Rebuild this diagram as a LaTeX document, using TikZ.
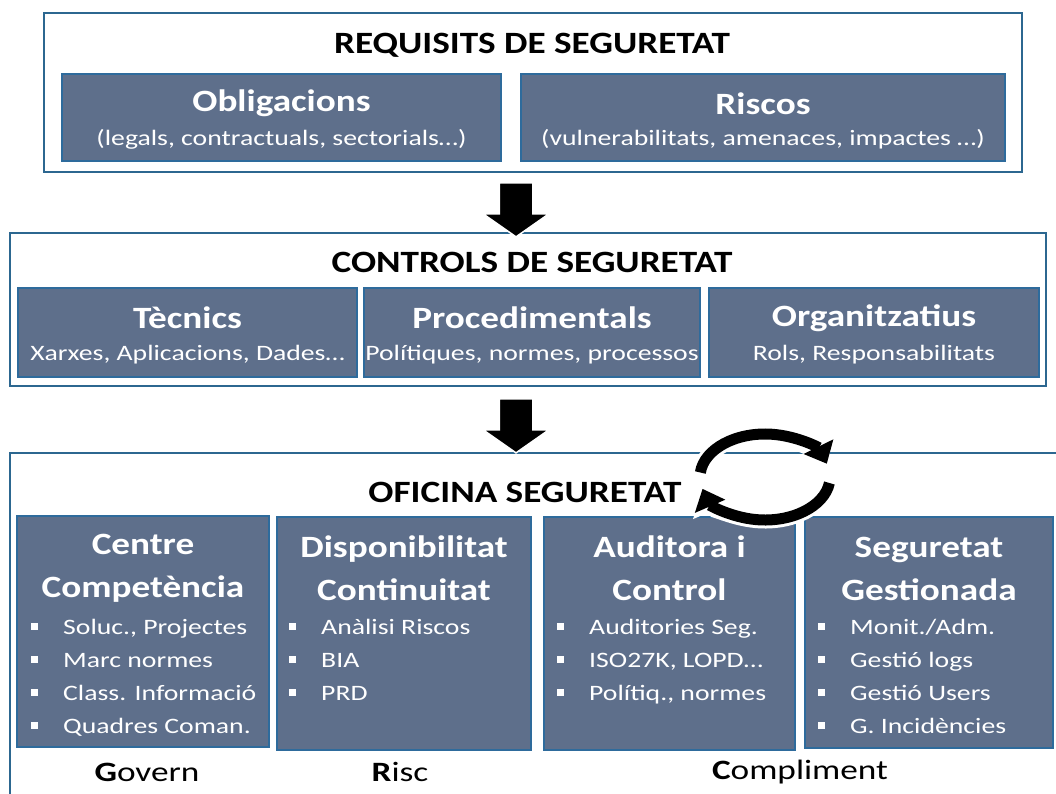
\documentclass[tikz,border=0pt]{standalone}
\usepackage{fontspec}
\setmainfont{Carlito}[FakeStretch=1.26]
\newfontfamily\headfont{Carlito}[FakeStretch=1.2]
\usetikzlibrary{positioning, shapes.arrows, arrows.meta}

\definecolor{cellfill}{HTML}{5E6F8B}
\definecolor{cellline}{HTML}{2E6B9C}
\definecolor{panelline}{HTML}{2C6790}
\newcommand{\bsq}{\makebox[32pt][l]{\rule[4pt]{7pt}{7pt}}}

\begin{document}
\begin{tikzpicture}[x=1pt, y=1pt,
   panel/.style = {draw=panelline, line width=2.5pt, inner sep=0pt},
   cell/.style = {draw=cellline, line width=2pt, fill=cellfill, inner sep=0pt},
   title/.style = {font=\headfont\fontsize{31}{36}\selectfont\bfseries, inner sep=0pt},
   head/.style = {text=white, font=\headfont\fontsize{31}{43}\selectfont\bfseries, align=center, inner sep=0pt},
   sub/.style = {text=white, font=\fontsize{22}{26}\selectfont, inner sep=0pt},
   items/.style = {text=white, font=\fontsize{22}{33}\selectfont, align=left, inner sep=0pt},
   tag/.style = {font=\fontsize{28}{34}\selectfont, inner sep=0pt},
   blockarrow/.style = {single arrow, fill=black, draw=white, line width=1.5pt,
      rotate=-90, minimum height=54pt, minimum width=64pt, inner xsep=0pt, inner ysep=16pt,
      single arrow head extend=16pt, single arrow tip angle=110},
   ringhalo/.style = {white, line width=17pt, -{Triangle[width=40pt,length=24pt]}},
   ringband/.style = {black, line width=11pt, -{Triangle[width=32pt,length=19pt]}}]
   \clip (0,0) rectangle (1056,-794);
   \fill[white] (0,0) rectangle (1056,-794);

   % requisits
   \node[panel, minimum width=978pt, minimum height=159pt] (req) at (533,-92.5) {};
   \node[title] (reqt) at (532,-45) {REQUISITS DE SEGURETAT};
   \node[cell, minimum width=439pt, minimum height=87pt] (obl) at (281.5,-117.5) {};
   \node[head] (oblh) at ([yshift=14pt]obl.center) {Obligacions};
   \node[sub] (obls) at ([yshift=-22pt]obl.center) {(legals, contractuals, sectorials…)};
   \node[cell, minimum width=484pt, minimum height=87pt] (ris) at (763,-117.5) {};
   \node[head] (rish) at ([yshift=14pt]ris.center) {Riscos};
   \node[sub] (riss) at ([yshift=-22pt]ris.center) {(vulnerabilitats, amenaces, impactes …)};

   % controls
   \node[panel, minimum width=1036pt, minimum height=153pt] (ctl) at (528,-309.5) {};
   \node[title] (ctlt) at (532,-262) {CONTROLS DE SEGURETAT};
   \node[cell, minimum width=339pt, minimum height=89pt] (tec) at (187.5,-332.5) {};
   \node[head] (tech) at ([yshift=14.5pt]tec.center) {Tècnics};
   \node[sub] (tecs) at ([yshift=-22pt]tec.center) {Xarxes, Aplicacions, Dades…};
   \node[cell, minimum width=336pt, minimum height=89pt] (pro) at (532,-332.5) {};
   \node[head] (proh) at ([yshift=14.5pt]pro.center) {Procedimentals};
   \node[sub] (pros) at ([yshift=-22pt]pro.center) {Polítiques, normes, processos};
   \node[cell, minimum width=330pt, minimum height=89pt] (org) at (874,-332.5) {};
   \node[head] (orgh) at ([yshift=14.5pt]org.center) {Organitzatius};
   \node[sub] (orgs) at ([yshift=-22pt]org.center) {Rols, Responsabilitats};

   % oficina
   \node[panel, minimum width=1070pt, minimum height=377pt] (ofi) at (545,-641.5) {};
   \node[title] (ofit) at (525,-492) {OFICINA SEGURETAT};
   \node[cell, minimum width=252pt, minimum height=231pt] (cc) at (143,-631.5) {};
   \node[head] (cch) at ([yshift=63pt]cc.center) {Centre\\Competència};
   \node[items, below right=104pt and 15pt of cc.north west] (cci)
      {\bsq Soluc., Projectes\\ \bsq Marc normes\\ \bsq Class. Informació\\ \bsq Quadres Coman.};
   \node[cell, minimum width=254pt, minimum height=233pt] (dc) at (404,-633.5) {};
   \node[head] (dch) at ([yshift=65pt]dc.center) {Disponibilitat\\Continuitat};
   \node[items, below right=103pt and 13pt of dc.north west] (dci)
      {\bsq Anàlisi Riscos\\ \bsq BIA\\ \bsq PRD};
   \node[cell, minimum width=251pt, minimum height=233pt] (ac) at (669.5,-633.5) {};
   \node[head] (ach) at ([yshift=65pt]ac.center) {Auditora i\\Control};
   \node[items, below right=103pt and 14pt of ac.north west] (aci)
      {\bsq Auditories Seg.\\ \bsq ISO27K, LOPD…\\ \bsq Polítiq., normes};
   \node[cell, minimum width=248pt, minimum height=231pt] (sg) at (929,-632.5) {};
   \node[head] (sgh) at ([yshift=64pt]sg.center) {Seguretat\\Gestionada};
   \node[items, below right=103pt and 14pt of sg.north west] (sgi)
      {\bsq Monit./Adm.\\ \bsq Gestió logs\\ \bsq Gestió Users\\ \bsq G. Incidències};

   \node[tag] (gov) at (147,-772) {\textbf{G}overn};
   \node[tag] (rsc) at (400,-772) {\textbf{R}isc};
   \node[tag] (cmp) at (800,-772) {\textbf{C}ompliment};

   % fletxes
   \node[blockarrow] (arr1) at (516,-204) {};
   \node[blockarrow] (arr2) at (516,-420) {};

   \coordinate (cyc) at (765,-477);
   \draw[ringhalo] ([shift={(174:65 and 43)}]cyc) arc[start angle=174, end angle=18, x radius=65, y radius=43];
   \draw[ringband] ([shift={(174:65 and 43)}]cyc) arc[start angle=174, end angle=18, x radius=65, y radius=43];
   \draw[ringhalo] ([shift={(-8:65 and 43)}]cyc) arc[start angle=-8, end angle=-164, x radius=65, y radius=43];
   \draw[ringband] ([shift={(-8:65 and 43)}]cyc) arc[start angle=-8, end angle=-164, x radius=65, y radius=43];
\end{tikzpicture}
\end{document}
